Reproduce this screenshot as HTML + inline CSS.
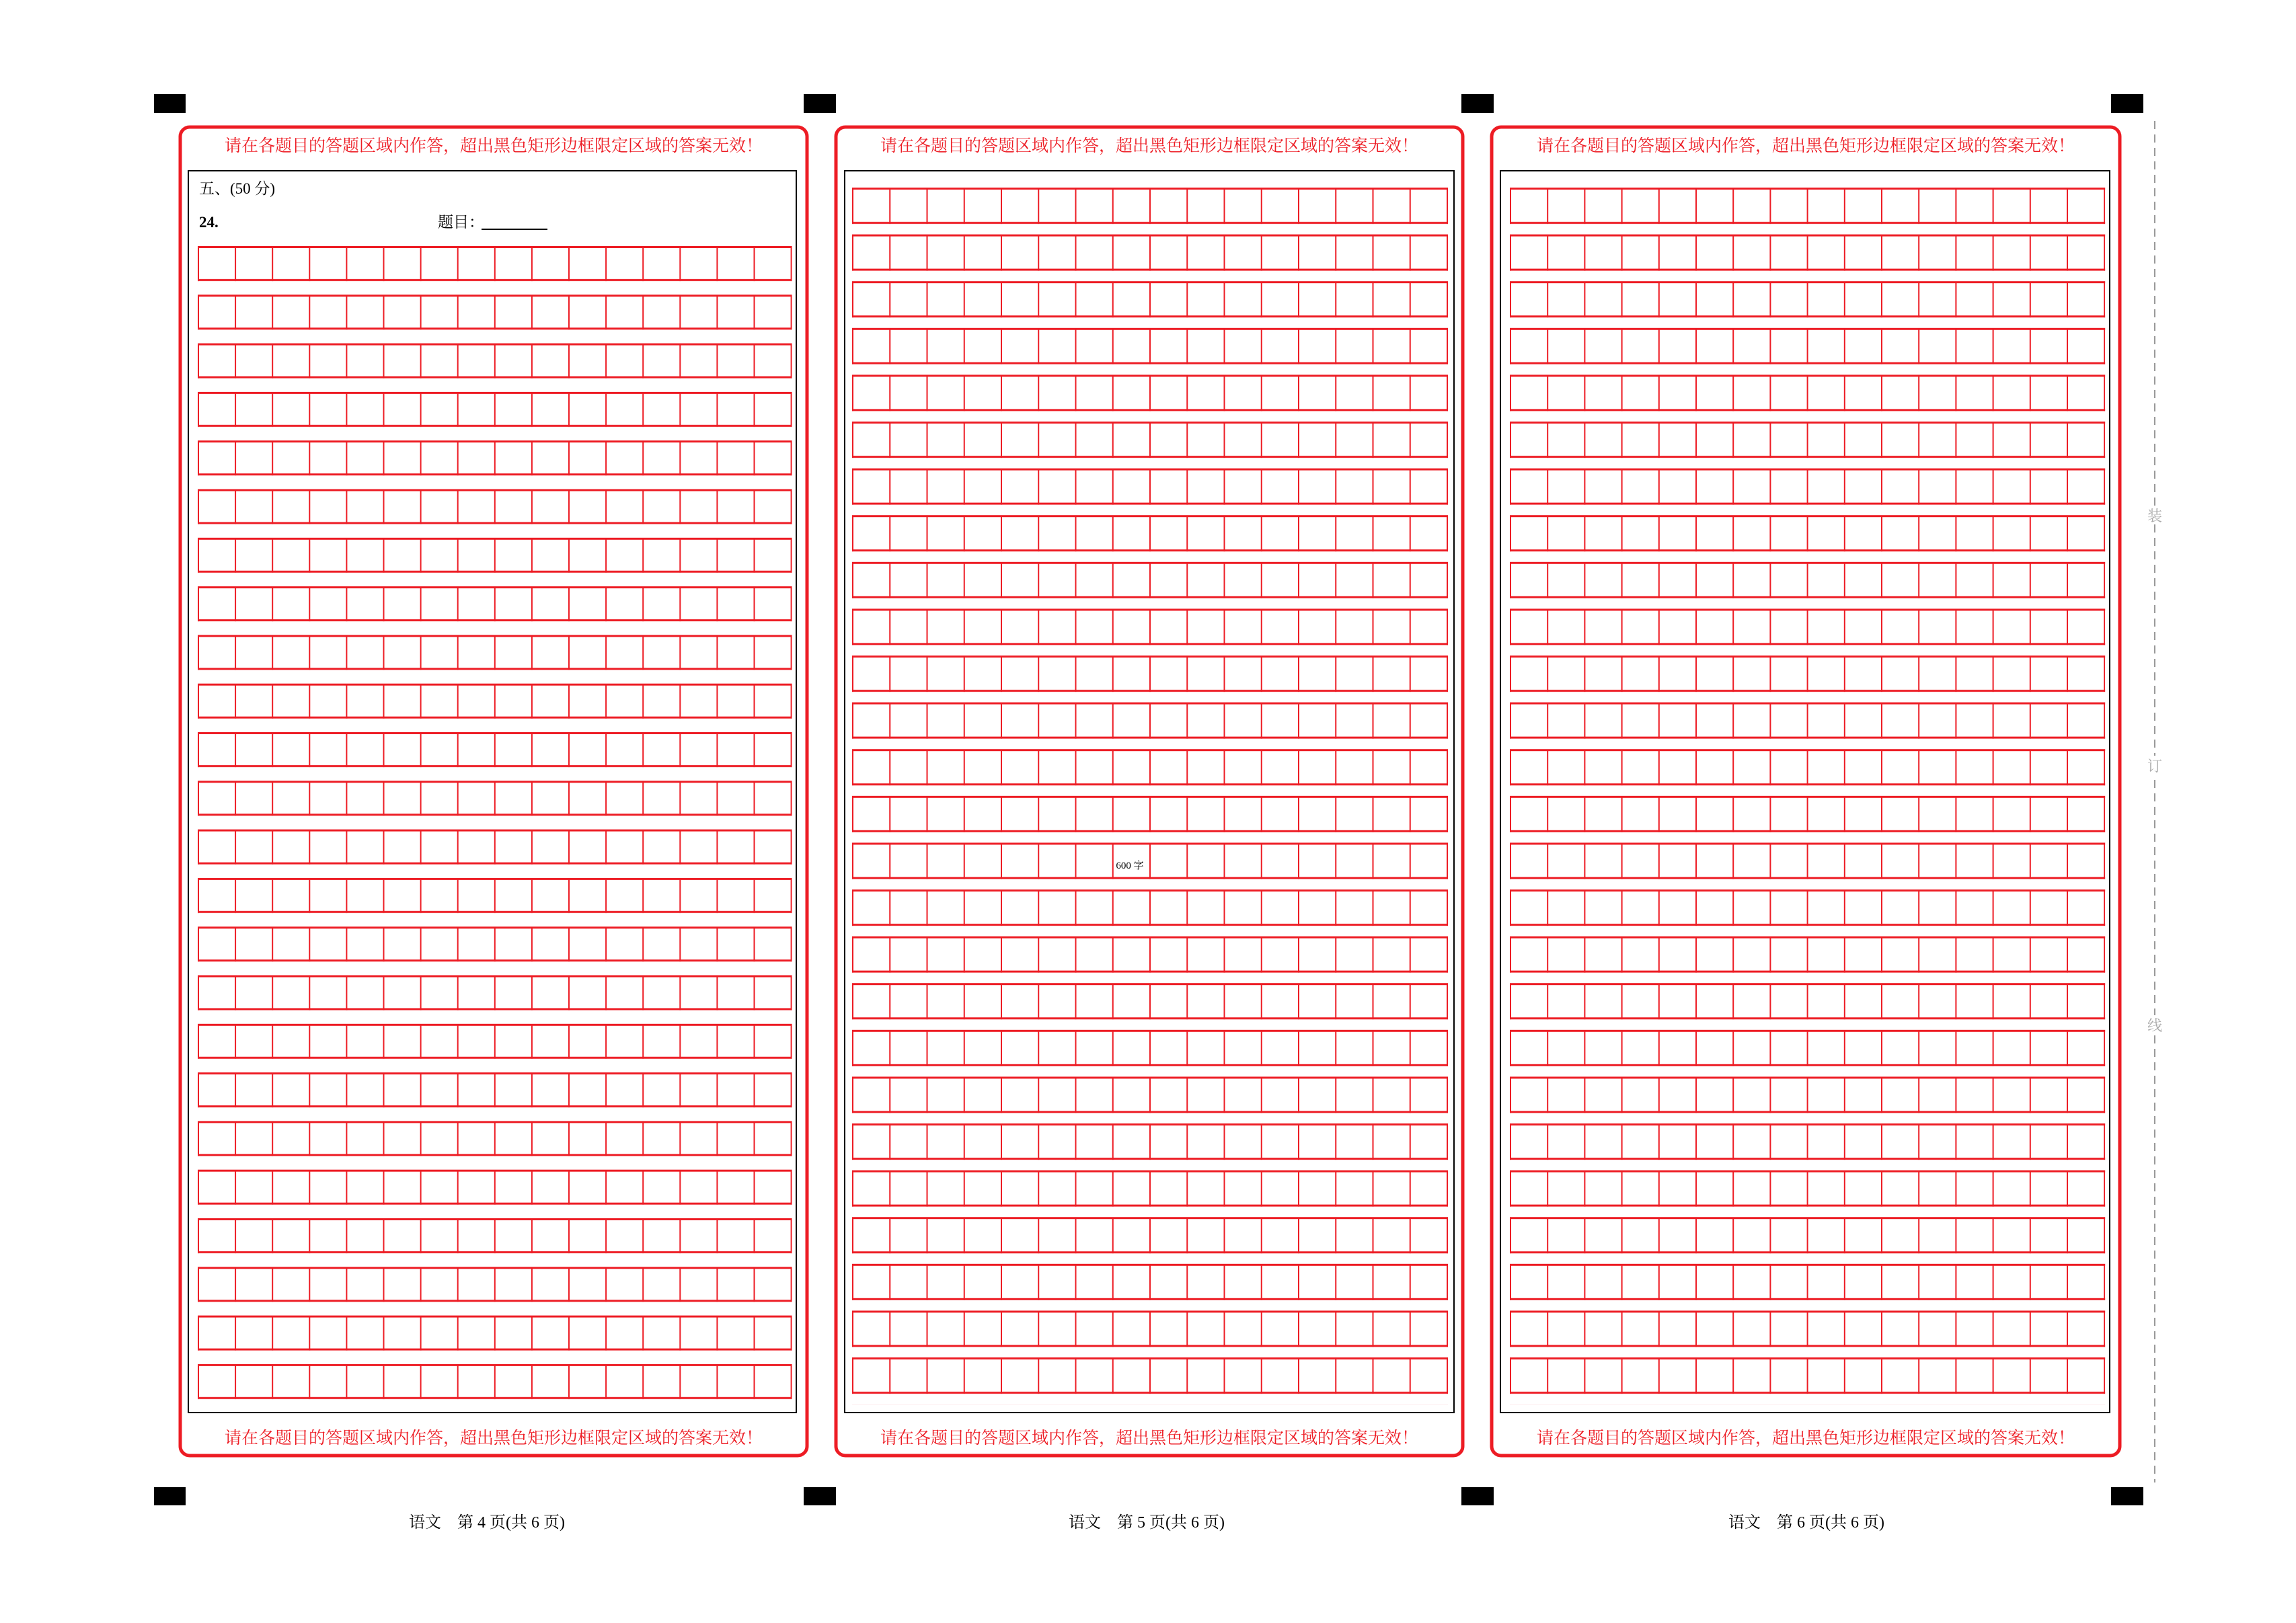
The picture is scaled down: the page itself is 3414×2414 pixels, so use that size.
<!DOCTYPE html>
<html><head><meta charset="utf-8">
<style>
html,body{margin:0;padding:0;background:#fff;}
body{width:3414px;height:2409px;overflow:hidden;}
svg text{font-family:"Liberation Serif","Noto Serif CJK SC",serif;}
</style></head>
<body>
<svg width="3414" height="2409" viewBox="0 0 3414 2409" xmlns="http://www.w3.org/2000/svg">
<defs>
<pattern id="p1" patternUnits="userSpaceOnUse" x="294" y="366" width="55.1" height="72.3">
<rect x="0" y="0" width="2" height="52" fill="#ed1c24"/>
<rect x="0" y="0" width="55.1" height="3" fill="#ed1c24"/>
<rect x="0" y="49" width="55.1" height="3" fill="#ed1c24"/>
</pattern>
<pattern id="p2" patternUnits="userSpaceOnUse" x="1267" y="279" width="55.25" height="69.6">
<rect x="0" y="0" width="2" height="54" fill="#ed1c24"/>
<rect x="0" y="0" width="55.25" height="3" fill="#ed1c24"/>
<rect x="0" y="51" width="55.25" height="3" fill="#ed1c24"/>
</pattern>
<pattern id="p3" patternUnits="userSpaceOnUse" x="2245" y="279" width="55.2" height="69.6">
<rect x="0" y="0" width="2" height="54" fill="#ed1c24"/>
<rect x="0" y="0" width="55.2" height="3" fill="#ed1c24"/>
<rect x="0" y="51" width="55.2" height="3" fill="#ed1c24"/>
</pattern>
</defs>
<!-- markers -->
<g fill="#000">
<rect x="229" y="140" width="47" height="28"/><rect x="1195" y="140" width="48" height="28"/>
<rect x="2173" y="140" width="48" height="28"/><rect x="3139" y="140" width="48" height="28"/>
<rect x="229" y="2212" width="47" height="27"/><rect x="1195" y="2212" width="48" height="27"/>
<rect x="2173" y="2212" width="48" height="27"/><rect x="3139" y="2212" width="48" height="27"/>
</g>
<!-- panels -->
<g fill="none" stroke="#ed1c24" stroke-width="5">
<rect x="268" y="189" width="932" height="1976" rx="14"/>
<rect x="1243" y="189" width="932" height="1976" rx="14"/>
<rect x="2218" y="189" width="934" height="1976" rx="14"/>
</g>
<g fill="none" stroke="#000" stroke-width="2">
<rect x="280" y="254" width="904" height="1847"/>
<rect x="1256" y="254" width="906" height="1847"/>
<rect x="2231" y="254" width="906" height="1847"/>
</g>
<g fill="#ed1c24" font-size="25" text-anchor="middle">
<text x="734" y="225">请在各题目的答题区域内作答，超出黑色矩形边框限定区域的答案无效！</text>
<text x="1709" y="225">请在各题目的答题区域内作答，超出黑色矩形边框限定区域的答案无效！</text>
<text x="2685" y="225">请在各题目的答题区域内作答，超出黑色矩形边框限定区域的答案无效！</text>
<text x="734" y="2147">请在各题目的答题区域内作答，超出黑色矩形边框限定区域的答案无效！</text>
<text x="1709" y="2147">请在各题目的答题区域内作答，超出黑色矩形边框限定区域的答案无效！</text>
<text x="2685" y="2147">请在各题目的答题区域内作答，超出黑色矩形边框限定区域的答案无效！</text>
</g>
<!-- grids -->
<rect x="294" y="366" width="883.6" height="1735" fill="url(#p1)"/>
<rect x="1267" y="279" width="886" height="1809.6" fill="url(#p2)"/>
<rect x="2245" y="279" width="885.2" height="1809.6" fill="url(#p3)"/>
<!-- texts -->
<g fill="#000" font-size="23">
<text x="296" y="288">五、(50 分)</text>
<text x="296" y="338" font-weight="bold">24.</text>
<text x="651" y="338">题目：</text>
</g>
<line x1="716" y1="341" x2="814" y2="341" stroke="#000" stroke-width="2"/>
<text x="1680" y="1292" font-size="15" text-anchor="middle" fill="#000">600 字</text>
<g fill="#000" font-size="24" text-anchor="middle">
<text x="724" y="2272">语文　第 4 页(共 6 页)</text>
<text x="1705" y="2272">语文　第 5 页(共 6 页)</text>
<text x="2686" y="2272">语文　第 6 页(共 6 页)</text>
</g>
<line x1="3204" y1="180" x2="3204" y2="2205" stroke="#999" stroke-width="2" stroke-dasharray="12,8"/>
<g fill="#aaa" font-size="22" text-anchor="middle">
<rect x="3194" y="752" width="20" height="28" fill="#fff"/><text x="3204" y="775">装</text>
<rect x="3194" y="1124" width="20" height="28" fill="#fff"/><text x="3204" y="1147">订</text>
<rect x="3194" y="1510" width="20" height="28" fill="#fff"/><text x="3204" y="1533">线</text>
</g>
</svg>
</body></html>
